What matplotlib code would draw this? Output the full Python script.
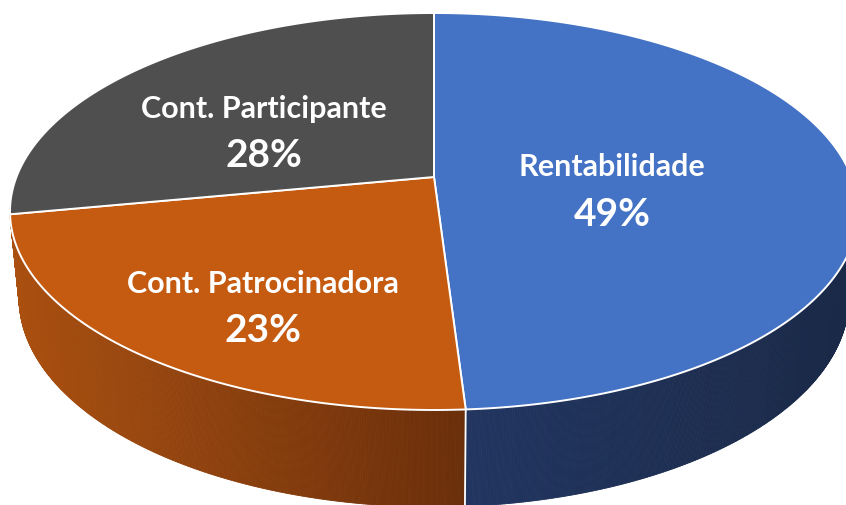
import numpy as np
import matplotlib
matplotlib.use("Agg")
import matplotlib.pyplot as plt
from matplotlib.collections import PolyCollection
from matplotlib.colors import to_rgb

# ---- data ----
labels = ["Rentabilidade", "Cont. Patrocinadora", "Cont. Participante"]
values = [49, 23, 28]
pct_labels = ["49%", "23%", "28%"]
top_colors = ["#4472C4", "#C55A11", "#4F4F4F"]
side_left = ["#213560", "#AA5010", "#3A3A3A"]
side_right = ["#1A2947", "#6A2E0A", "#2A2A2A"]

# ---- 3D perspective camera (pixels) ----
CX, CY = 434.0, 177.0
F = 2132.0
SINP, COSP = 0.461, 0.8874
D0 = 5.106
H = 0.235


def proj(x, y, z):
    d = D0 + y * COSP - z * SINP
    yc = y * SINP + z * COSP
    return CX + F * x / d, CY - F * yc / d


fig = plt.figure(figsize=(8.46, 5.05), dpi=100)
ax = fig.add_axes([0, 0, 1, 1])
ax.set_xlim(0, 846)
ax.set_ylim(505, 0)
ax.axis("off")

fracs = np.array(values, dtype=float) / np.sum(values)
bounds = np.concatenate([[0], np.cumsum(fracs)]) * 2 * np.pi

# ---- side walls ----
n = 1440
phis = np.linspace(0, 2 * np.pi, n + 1)
polys, cols, depth = [], [], []
for i in range(n):
    a0, a1 = phis[i], phis[i + 1]
    am = 0.5 * (a0 + a1)
    if np.cos(am) > -0.15:
        continue
    k = np.searchsorted(bounds, am) - 1
    k = min(max(k, 0), len(values) - 1)
    pts = []
    for a in (a0, a1):
        pts.append(proj(np.sin(a), np.cos(a), 0.0))
    for a in (a1, a0):
        pts.append(proj(np.sin(a), np.cos(a), -H))
    pts = np.array(pts)
    xm = pts[:, 0].mean()
    t = np.clip((xm - 10) / (846 - 10), 0, 1)
    if k == 1:
        t = np.clip((xm - 15) / (466 - 15), 0, 1)
    elif k == 0:
        t = np.clip((xm - 466) / (846 - 466), 0, 1)
    c = (1 - t) * np.array(to_rgb(side_left[k])) + t * np.array(to_rgb(side_right[k]))
    polys.append(pts)
    cols.append(c)
    depth.append(np.cos(am))
order = np.argsort(-np.array(depth))
pc = PolyCollection([polys[j] for j in order], facecolors=[cols[j] for j in order],
                    edgecolors=[cols[j] for j in order], linewidths=0.6, zorder=1)
ax.add_collection(pc)

# wall divider lines
for b in bounds[1:-1]:
    if np.cos(b) < -0.22:
        x0, y0 = proj(np.sin(b), np.cos(b), 0.0)
        x1, y1 = proj(np.sin(b), np.cos(b), -H)
        ax.plot([x0, x1], [y0, y1], color="white", lw=1.3, zorder=2)

# ---- top face ----
for k in range(len(values)):
    a = np.linspace(bounds[k], bounds[k + 1], 300)
    xs, ys = proj(np.sin(a), np.cos(a), 0.0)
    cx0, cy0 = proj(0.0, 0.0, 0.0)
    poly = np.vstack([[cx0, cy0], np.column_stack([xs, ys])])
    ax.fill(poly[:, 0], poly[:, 1], facecolor=top_colors[k], edgecolor="white",
            lw=1.4, joinstyle="round", zorder=3)

# ---- labels ----
label_pos = [(612, 176, 226), (263, 293, 342), (264, 118, 167)]
for k in range(len(values)):
    x, yl, yp = label_pos[k]
    ax.text(x, yl, labels[k], ha="center", va="baseline", color="white",
            fontsize=22, fontweight="bold", family="Lato", zorder=5)
    ax.text(x, yp, pct_labels[k], ha="center", va="baseline", color="white",
            fontsize=28, fontweight="bold", family="Lato", zorder=5)

fig.savefig("out.png", dpi=100)
